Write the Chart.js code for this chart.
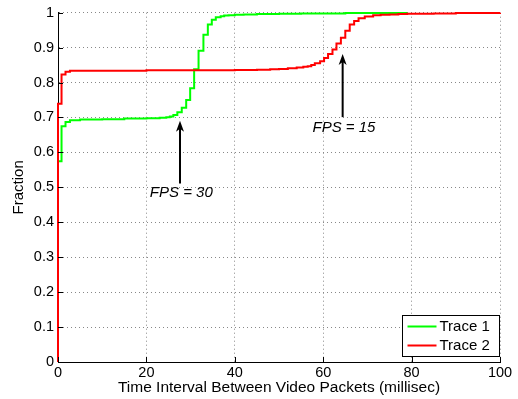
<!DOCTYPE html>
<html>
<head>
<meta charset="utf-8">
<script src="https://cdn.jsdelivr.net/npm/chart.js@4/dist/chart.umd.min.js"></script>
<style>
  html, body { margin: 0; padding: 0; background: #fff; }
  #wrap { width: 518px; height: 399px; }
</style>
</head>
<body>
<div id="wrap"><canvas id="cdf" width="518" height="399"></canvas></div>
<script>
// Empirical CDFs of inter-packet time (ms) for two video traces
const trace1Ms = [0, 0, 0.8, 1.7, 2.7, 5, 10, 15, 20, 23, 24.5, 25.3, 26.1, 27, 28, 29, 29.9, 30.8, 31.8, 32.9, 33.9, 34.8, 35.7, 36.8, 37.6, 38.6, 40, 42, 45, 50, 55, 65, 79];
const trace1Frac = [0, 0.575, 0.675, 0.687, 0.692, 0.694, 0.695, 0.697, 0.698, 0.699, 0.701, 0.703, 0.707, 0.715, 0.728, 0.75, 0.784, 0.838, 0.891, 0.937, 0.966, 0.98, 0.987, 0.99, 0.992, 0.993, 0.994, 0.995, 0.996, 0.997, 0.998, 0.999, 1];

const trace2Ms = [0, 0, 0.8, 1.7, 2.7, 20, 30, 40, 45, 48, 50, 52, 54, 55.5, 56.5, 57.3, 58.1, 59.3, 60.2, 61.1, 62.1, 63, 64, 65, 66, 67, 68, 69.4, 71.3, 73, 75, 77, 79, 85, 90, 100];
const trace2Frac = [0, 0.739, 0.823, 0.831, 0.834, 0.835, 0.8355, 0.836, 0.837, 0.838, 0.839, 0.841, 0.843, 0.845, 0.847, 0.85, 0.855, 0.861, 0.87, 0.882, 0.895, 0.912, 0.928, 0.948, 0.966, 0.976, 0.984, 0.989, 0.993, 0.994, 0.995, 0.996, 0.997, 0.998, 0.999, 1];

const seriesNames = ['Trace 1', 'Trace 2'];
const seriesColors = ['#00ff00', '#ff0000'];

const xTicks = [0, 20, 40, 60, 80, 100];
const yTicks = [0, 0.1, 0.2, 0.3, 0.4, 0.5, 0.6, 0.7, 0.8, 0.9, 1];

// Callouts: label, arrow x (ms), arrow tip / tail (fraction), label position
const calloutText = ['FPS = 30', 'FPS = 15'];
const calloutX = [27.6, 64.4];
const calloutTip = [0.691, 0.882];
const calloutTail = [0.511, 0.701];
const calloutLabelX = [27.9, 64.7];
const calloutLabelY = [0.483, 0.671];

const FONT = "'Liberation Sans', Arial, Helvetica, sans-serif";

const toPoints = (xs, ys) => xs.map((x, i) => ({ x: x, y: ys[i] }));

// Inward tick marks on the left and bottom axes
const innerTicks = {
  id: 'innerTicks',
  afterDatasetsDraw(chart) {
    const { ctx, chartArea: a, scales: { x, y } } = chart;
    ctx.save();
    ctx.strokeStyle = '#000';
    ctx.lineWidth = 1;
    ctx.beginPath();
    xTicks.forEach(v => {
      const px = Math.round(x.getPixelForValue(v)) + 0.5;
      ctx.moveTo(px, a.bottom);
      ctx.lineTo(px, a.bottom - 5);
    });
    yTicks.forEach(v => {
      const py = Math.round(y.getPixelForValue(v)) + 0.5;
      ctx.moveTo(a.left, py);
      ctx.lineTo(a.left + 5, py);
    });
    ctx.stroke();
    ctx.restore();
  }
};

// Arrows with labels pointing at the frame-rate knees
const callouts = {
  id: 'callouts',
  afterDatasetsDraw(chart) {
    const { ctx, scales: { x, y } } = chart;
    ctx.save();
    ctx.strokeStyle = '#000';
    ctx.fillStyle = '#000';
    ctx.lineWidth = 2;
    calloutText.forEach((t, i) => {
      const px = x.getPixelForValue(calloutX[i]);
      const tip = y.getPixelForValue(calloutTip[i]);
      const tail = y.getPixelForValue(calloutTail[i]);
      ctx.beginPath();
      ctx.moveTo(px, tail);
      ctx.lineTo(px, tip + 6);
      ctx.stroke();
      ctx.beginPath();
      ctx.moveTo(px, tip);
      ctx.lineTo(px - 4, tip + 11);
      ctx.lineTo(px, tip + 8);
      ctx.lineTo(px + 4, tip + 11);
      ctx.closePath();
      ctx.fill();
      ctx.font = 'italic 15px ' + FONT;
      ctx.textAlign = 'center';
      ctx.textBaseline = 'middle';
      ctx.fillText(t, x.getPixelForValue(calloutLabelX[i]), y.getPixelForValue(calloutLabelY[i]));
    });
    ctx.restore();
  }
};

// Boxed legend in the lower-right corner of the plot area
const boxLegend = {
  id: 'boxLegend',
  afterDraw(chart) {
    const { ctx, chartArea: a } = chart;
    const bx = Math.round(a.right - 98) + 0.5;
    const by = Math.round(a.bottom - 47) + 0.5;
    const bw = 97, bh = 41;
    ctx.save();
    ctx.fillStyle = '#fff';
    ctx.fillRect(bx, by, bw, bh);
    ctx.strokeStyle = '#000';
    ctx.lineWidth = 1;
    ctx.strokeRect(bx, by, bw, bh);
    ctx.font = '15px ' + FONT;
    ctx.textAlign = 'left';
    ctx.textBaseline = 'middle';
    seriesNames.forEach((name, i) => {
      const ly = by + 11 + i * 19;
      ctx.strokeStyle = seriesColors[i];
      ctx.lineWidth = 2;
      ctx.beginPath();
      ctx.moveTo(bx + 5, ly);
      ctx.lineTo(bx + 34, ly);
      ctx.stroke();
      ctx.fillStyle = '#000';
      ctx.fillText(name, bx + 37, ly);
    });
    ctx.restore();
  }
};

const gridStyle = { color: '#888', lineWidth: 1, drawTicks: false };
const borderStyle = { display: true, color: '#000', width: 1, dash: [1, 3] };

new Chart(document.getElementById('cdf'), {
  type: 'line',
  data: {
    datasets: [
      {
        label: seriesNames[0],
        data: toPoints(trace1Ms, trace1Frac),
        borderColor: seriesColors[0],
        borderWidth: 2,
        stepped: true,
        pointRadius: 0,
        fill: false,
        clip: false,
        order: 2
      },
      {
        label: seriesNames[1],
        data: toPoints(trace2Ms, trace2Frac),
        borderColor: seriesColors[1],
        borderWidth: 2,
        stepped: true,
        pointRadius: 0,
        fill: false,
        clip: false,
        order: 1
      }
    ]
  },
  options: {
    responsive: false,
    animation: false,
    devicePixelRatio: 1,
    layout: { padding: { top: 12, right: 18, left: 0, bottom: 0 } },
    plugins: { legend: { display: false }, tooltip: { enabled: false } },
    scales: {
      x: {
        type: 'linear',
        min: 0,
        max: 100,
        afterBuildTicks: s => { s.ticks = xTicks.map(v => ({ value: v })); },
        afterFit: s => { s.height = 37; },
        ticks: { color: '#000', font: { family: FONT, size: 14.5 }, padding: 2, maxRotation: 0 },
        grid: gridStyle,
        border: borderStyle,
        title: {
          display: true,
          text: 'Time Interval Between Video Packets (millisec)',
          color: '#000',
          font: { family: FONT, size: 15.5 },
          padding: { top: 0, bottom: 2 }
        }
      },
      y: {
        type: 'linear',
        min: 0,
        max: 1,
        afterBuildTicks: s => { s.ticks = yTicks.map(v => ({ value: v })); },
        afterFit: s => { s.width = 58; },
        ticks: {
          color: '#000',
          font: { family: FONT, size: 14.5 },
          padding: 4,
          callback: v => String(Number(v.toFixed(1)))
        },
        grid: gridStyle,
        border: borderStyle,
        title: {
          display: true,
          text: 'Fraction',
          color: '#000',
          font: { family: FONT, size: 15 },
          padding: { top: 10, bottom: 0 }
        }
      }
    }
  },
  plugins: [innerTicks, callouts, boxLegend]
});
</script>
</body>
</html>
